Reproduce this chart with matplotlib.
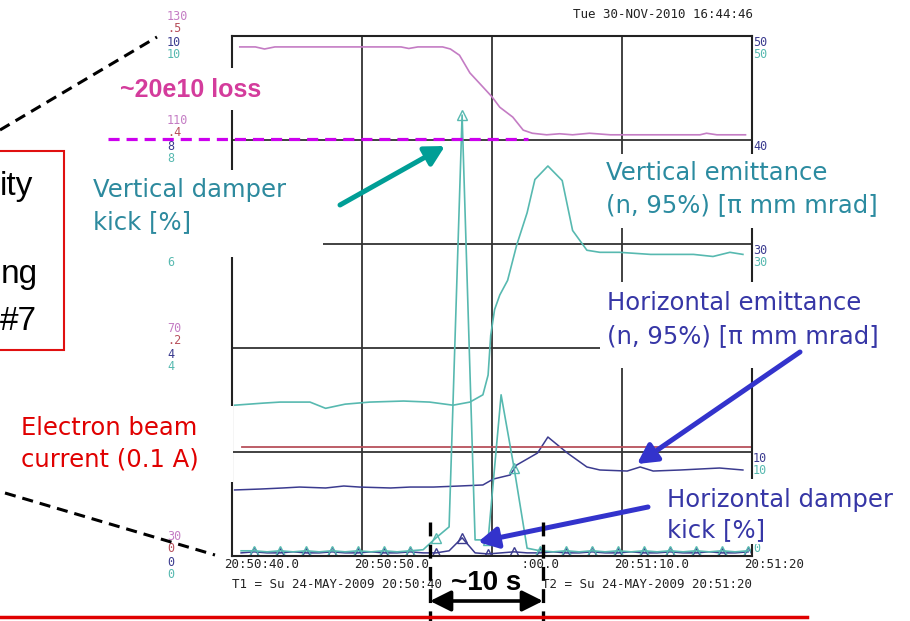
import matplotlib
matplotlib.use('Agg')
import matplotlib.pyplot as plt
from matplotlib.patches import Rectangle
from matplotlib.transforms import offset_copy, blended_transform_factory

plt.rcParams['lines.scale_dashes'] = False

# ---------------- data ----------------
# time in seconds after 20:50:00 (24-MAY-2009)
t_int = [40.6, 41.8, 42.5, 43.3, 46.0, 50.0, 53.0, 53.6, 54.3, 56.2,
         56.8, 57.5, 58.3, 59.3, 60.0, 60.6, 61.6, 62.4, 63.1, 64.2,
         65.2, 66.2, 67.5, 69.1, 72.0, 76.0, 76.5, 77.3, 79.5]
intensity = [127.9, 127.9, 127.5, 127.9, 127.9, 127.9, 127.9, 127.6, 127.9, 127.9,
             127.5, 126.3, 122.9, 120.2, 118.3, 116.3, 114.4, 111.9, 111.3, 111.0,
             111.2, 111.0, 111.3, 111.0, 111.0, 111.0, 111.3, 111.0, 111.0]

t_vem = [40.2, 42.4, 43.7, 46.0, 47.2, 48.7, 50.6, 53.2, 55.2, 57.0,
         58.3, 59.3, 59.7, 59.9, 60.2, 60.6, 61.2, 61.9, 62.7, 63.3,
         64.3, 65.4, 66.2, 67.3, 68.3, 69.8, 72.2, 75.5, 77.0, 78.3, 79.3]
v_emit = [14.5, 14.7, 14.8, 14.8, 14.2, 14.6, 14.8, 14.9, 14.8, 14.5,
          14.8, 15.5, 17.4, 21.2, 23.7, 25.1, 26.5, 29.9, 33.0, 36.2,
          37.5, 36.1, 31.3, 29.4, 29.2, 29.2, 29.0, 29.0, 28.8, 29.2, 29.0]

t_hem = [40.2, 42.2, 43.9, 45.2, 47.2, 48.6, 49.8, 52.2, 53.7, 55.5,
         57.5, 59.3, 60.1, 61.4, 61.9, 63.5, 64.3, 65.8, 67.3, 68.3,
         70.4, 71.4, 72.4, 74.5, 77.5, 79.3]
h_emit = [6.35, 6.44, 6.54, 6.63, 6.54, 6.73, 6.63, 6.54, 6.63, 6.63,
          6.73, 6.83, 7.40, 7.79, 8.75, 9.90, 11.44, 9.90, 8.56, 8.27,
          8.17, 8.56, 8.17, 8.27, 8.46, 8.27]

t_kick = [40.7, 41.7, 42.7, 43.7, 44.7, 45.7, 46.7, 47.7, 48.7, 49.7,
          50.7, 51.7, 52.7, 53.7, 54.7, 55.7, 56.7, 57.7, 58.7, 59.7,
          60.7, 61.7, 62.7, 63.7, 64.7, 65.7, 66.7, 67.7, 68.7, 69.7,
          70.7, 71.7, 72.7, 73.7, 74.7, 75.7, 76.7, 77.7, 78.7, 79.7]
v_kick = [0.10, 0.10, 0.08, 0.10, 0.08, 0.10, 0.08, 0.10, 0.08, 0.10,
          0.08, 0.10, 0.08, 0.10, 0.12, 0.35, 0.56, 8.48, 0.31, 0.31,
          3.10, 1.69, 0.15, 0.10, 0.08, 0.10, 0.08, 0.10, 0.08, 0.10,
          0.08, 0.10, 0.08, 0.10, 0.08, 0.10, 0.08, 0.10, 0.08, 0.10]
h_kick = [0.06, 0.08, 0.06, 0.06, 0.08, 0.06, 0.06, 0.08, 0.06, 0.06,
          0.08, 0.06, 0.06, 0.08, 0.06, 0.06, 0.10, 0.35, 0.06, 0.04,
          0.06, 0.08, 0.06, 0.06, 0.08, 0.06, 0.06, 0.08, 0.06, 0.06,
          0.08, 0.06, 0.06, 0.08, 0.06, 0.06, 0.08, 0.06, 0.06, 0.08]

t_ecur = [40.8, 80.0]
e_cur = [0.105, 0.105]

# scales: (lowest value, value per division)
sc_int = (30, 20)
sc_cur = (0, 0.1)
sc_kick = (0, 2)
sc_emit = (0, 10)

int_ticks = ['30', '50', '70', '90', '110', '130']
cur_ticks = ['0', '.1', '.2', '.3', '.4', '.5']
kick_ticks = ['0', '2', '4', '6', '8', '10']
emit_ticks = ['0', '10', '20', '30', '40', '50']
time_ticks = [40, 50, 60, 70, 80]
time_labels = ['20:50:40.0', '20:50:50.0', '20:51:00.0', '20:51:10.0', '20:51:20']

PINK = '#C47CC4'
BROWN = '#B8505C'
NAVY = '#3B3B8F'
TEAL = '#57B9B0'


def div(vals, sc):
    return [(v - sc[0]) / sc[1] for v in vals]


W, H = 910, 621
fig = plt.figure(figsize=(W / 100, H / 100), dpi=100)
fig.patch.set_facecolor('white')

L, R, T, B = 232, 752, 36, 556
ax = fig.add_axes([L / W, 1 - B / H, (R - L) / W, (B - T) / H], zorder=1)
ax.set_xlim(40, 80)
ax.set_ylim(0, 5)
ax.set_xticks([50, 60, 70])
ax.set_yticks([1, 2, 3, 4])
ax.tick_params(length=0, labelbottom=False, labelleft=False)
ax.grid(color='#333333', lw=1.3)
for s in ax.spines.values():
    s.set_color('#222222')
    s.set_linewidth(1.5)

ax.plot(t_int, div(intensity, sc_int), color=PINK, lw=1.2)
ax.plot(t_vem, div(v_emit, sc_emit), color=TEAL, lw=1.2)
ax.plot(t_hem, div(h_emit, sc_emit), color=NAVY, lw=1.1)
ax.plot(t_ecur, div(e_cur, sc_cur), color=BROWN, lw=1.3)
ax.plot(t_kick, div(h_kick, sc_kick), color=NAVY, lw=1.1, marker='^',
        ms=7, mfc='none', mew=1.0, markevery=(1, 2))
ax.plot(t_kick, div(v_kick, sc_kick), color=TEAL, lw=1.2, marker='^',
        ms=7, mfc='none', mew=1.0, markevery=(1, 2))

# stacked coloured scale labels (those hidden under the pasted boxes are skipped)
mono = 'DejaVu Sans Mono'
yx = blended_transform_factory(ax.transAxes, ax.transData)
left_sets = [(int_ticks, PINK, 20, {1, 3}), (cur_ticks, BROWN, 7, {1, 3}),
             (kick_ticks, NAVY, -6, {1, 3}), (kick_ticks, TEAL, -19, {1})]
for labs, col, dy, hidden in left_sets:
    tr = offset_copy(yx, fig=fig, x=-65, y=dy, units='dots')
    for i, lab in enumerate(labs):
        if i in hidden:
            continue
        ax.text(0, i, lab, transform=tr, ha='left', va='center',
                fontsize=8.5, family=mono, color=col)
right_sets = [(emit_ticks, NAVY, -6, {0, 2}), (emit_ticks, TEAL, -19, {0, 2, 4})]
for labs, col, dy, hidden in right_sets:
    tr = offset_copy(yx, fig=fig, x=1, y=dy, units='dots')
    for i, lab in enumerate(labs):
        if i in hidden:
            continue
        ax.text(1, i, lab, transform=tr, ha='left', va='center',
                fontsize=8.5, family=mono, color=col)
ax.text(1, 0, emit_ticks[0], ha='left', va='center', fontsize=8.5, family=mono,
        color=TEAL, transform=offset_copy(yx, fig=fig, x=1, y=8, units='dots'))

xb = blended_transform_factory(ax.transData, ax.transAxes)
trb = offset_copy(xb, fig=fig, x=-8, y=-9, units='dots')
for tt, lab in zip(time_ticks, time_labels):
    ax.text(tt, 0, lab, transform=trb, ha='left', va='center',
            fontsize=9, family=mono, color='#222222')
ax.text(0, 0, 'T1 = Su 24-MAY-2009 20:50:40', ha='left', va='center',
        transform=offset_copy(ax.transAxes, fig=fig, x=0, y=-28, units='dots'),
        fontsize=9, family=mono, color='#222222')
ax.text(1, 0, 'T2 = Su 24-MAY-2009 20:51:20', ha='right', va='center',
        transform=offset_copy(ax.transAxes, fig=fig, x=0, y=-28, units='dots'),
        fontsize=9, family=mono, color='#222222')
ax.text(1, 1, 'Tue 30-NOV-2010 16:44:46', ha='right', va='center',
        transform=offset_copy(ax.transAxes, fig=fig, x=1, y=21, units='dots'),
        fontsize=9, family=mono, color='#222222')

# ---------------- slide overlay (pixel coordinates) ----------------
ov = fig.add_axes([0, 0, 1, 1], zorder=10)
ov.set_xlim(0, W)
ov.set_ylim(H, 0)
ov.axis('off')
ov.patch.set_alpha(0)

# white label boxes pasted over the screenshot
covers = [(108, 68, 165, 42), (86, 170, 237, 87), (600, 154, 288, 74),
          (600, 282, 288, 86), (12, 406, 221, 76), (660, 479, 232, 65),
          (446, 557, 77, 35)]
for x0, y0, w, h in covers:
    ov.add_patch(Rectangle((x0, y0), w, h, fc='white', ec='none', zorder=2))

# left red box (cut off by slide edge)
ov.add_patch(Rectangle((-10, 151), 74, 199, fc='none', ec='#E01010', lw=1.5, zorder=3))
sans = 'Liberation Sans'
for txt, xr, yb in [('ity', 33, 195), ('ng', 38, 283), ('#7', 37, 330)]:
    ov.text(xr, yb, txt, ha='right', va='baseline', fontsize=24, family=sans,
            color='black', zorder=4)

# zoom dashed lines
ov.plot([0, 157], [130, 37], color='black', lw=2.2, dashes=(8, 5), zorder=3)
ov.plot([5, 215], [493, 555], color='black', lw=2.2, dashes=(8, 5), zorder=3)

# intensity after loss level
ov.plot([108, 528], [139, 139], color='#CC00EE', lw=2.3, dashes=(8, 5), zorder=3)
ov.text(120, 97, '~20e10 loss', ha='left', va='baseline', fontsize=18,
        family=sans, weight='bold', color='#D43C9C', zorder=4)

fs = 17.5
labels = [
    ('Vertical damper', 93, 197, '#2D8A9E'), ('kick [%]', 93, 229, '#2D8A9E'),
    ('Vertical emittance', 606, 180, '#2B8BA0'),
    ('(n, 95%) [\u03c0 mm mrad]', 606, 212, '#2B8BA0'),
    ('Horizontal emittance', 607, 310, '#3636A6'),
    ('(n, 95%) [\u03c0 mm mrad]', 607, 343, '#3636A6'),
    ('Horizontal damper', 667, 507, '#3636A6'), ('kick [%]', 667, 537, '#3636A6'),
    ('Electron beam', 21, 435, '#E00000'), ('current (0.1 A)', 21, 467, '#E00000'),
]
for txt, x0, yb, col in labels:
    ov.text(x0, yb, txt, ha='left', va='baseline', fontsize=fs,
            family='DejaVu Sans', color=col, zorder=4)

arrow_style = '-|>,head_length=0.65,head_width=0.35'
ov.annotate('', xy=(445, 146), xytext=(340, 205), zorder=5,
            arrowprops=dict(arrowstyle=arrow_style, color='#009E96', lw=3.6,
                            mutation_scale=18, shrinkA=0, shrinkB=0))
ov.annotate('', xy=(637, 464), xytext=(800, 352), zorder=5,
            arrowprops=dict(arrowstyle=arrow_style, color='#3333CC', lw=3.6,
                            mutation_scale=18, shrinkA=0, shrinkB=0))
ov.annotate('', xy=(478, 542), xytext=(648, 507), zorder=5,
            arrowprops=dict(arrowstyle=arrow_style, color='#3333CC', lw=3.6,
                            mutation_scale=18, shrinkA=0, shrinkB=0))

# ~10 s marker
for xv in (430, 543):
    ov.plot([xv, xv], [522, 621], color='black', lw=2.4, dashes=(10, 6), zorder=5)
ov.annotate('', xy=(543, 601), xytext=(430, 601), zorder=5,
            arrowprops=dict(arrowstyle='<|-|>,head_length=0.7,head_width=0.35',
                            color='black', lw=2.6, mutation_scale=18,
                            shrinkA=0, shrinkB=0))
ov.text(486, 590, '~10 s', ha='center', va='baseline', fontsize=20,
        family=sans, weight='bold', color='black', zorder=6)

ov.plot([0, 807], [617, 617], color='#E00000', lw=2.5, zorder=5)

fig.savefig('out.png', dpi=100, facecolor='white')
